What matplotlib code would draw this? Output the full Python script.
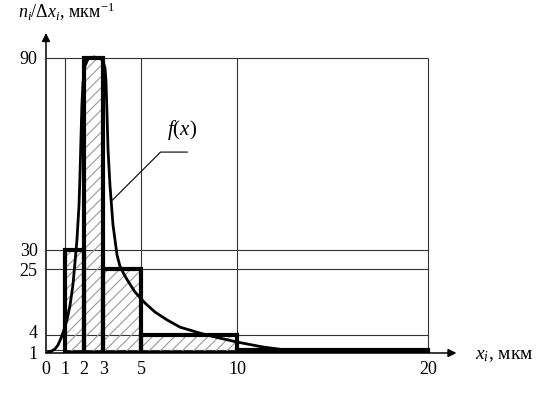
import numpy as np
import matplotlib
matplotlib.use("Agg")
import matplotlib.pyplot as plt
from matplotlib.transforms import ScaledTranslation

# histogram bins (мкм) and heights n_i/dx_i
bin_edges = [1, 2, 3, 5, 10, 20]
heights = [30, 90, 25, 4, 1]

# f(x)
curve_x = [0, 0.26, 0.47, 0.63, 0.79, 0.94, 1.10, 1.26, 1.41, 1.52,
           1.62, 1.73, 1.78, 1.83, 1.88, 1.94, 2.04, 2.2, 2.51, 2.83,
           2.98, 3.09, 3.14, 3.19, 3.25, 3.35, 3.51, 3.72, 3.87, 4.08,
           4.29, 4.66, 5.18, 5.71, 6.34, 7.02, 8.06, 8.74, 10.0, 11.36,
           13.14, 15.76, 20]
curve_y = [0, 0.5, 1.2, 2.0, 3.4, 5.6, 8.8, 13.5, 19.9, 26.8,
           33.1, 44.1, 53.4, 64.4, 75.3, 82.5, 87.5, 89.7, 90.3, 90,
           89.1, 86.9, 83.1, 73.75, 61.25, 50.3, 37.8, 28.7, 25.8, 23.4,
           21.2, 17.7, 14.2, 11.3, 8.8, 6.5, 4.6, 3.7, 2.6, 1.6,
           0.5, 0.1, 0.05]

x_ticks = [0, 1, 2, 3, 5, 10, 20]
y_ticks = [1, 4, 25, 30, 90]

# the original y axis is not drawn to an even scale
y_vals = [0, 1, 4, 25, 30, 90, 100]
y_pix = [0, 3, 18, 84, 103, 295, 327]


def fwd(v):
    return np.interp(v, y_vals, y_pix)


def inv(p):
    return np.interp(p, y_pix, y_vals)


def main():
    plt.rcParams["font.family"] = "Liberation Serif"
    plt.rcParams["mathtext.fontset"] = "custom"
    plt.rcParams["mathtext.rm"] = "Liberation Serif"
    plt.rcParams["mathtext.it"] = "Liberation Serif:italic"
    plt.rcParams["hatch.linewidth"] = 0.8

    W, H = 542, 395
    fig = plt.figure(figsize=(W / 100, H / 100), dpi=100)
    ax = fig.add_axes([46 / W, (H - 353) / H, 420 / W, 327 / H])
    ax.set_yscale("function", functions=(fwd, inv))
    ax.set_xlim(0, 22)
    ax.set_ylim(0, 100)
    for s in ax.spines.values():
        s.set_visible(False)

    # grid
    ax.hlines(y_ticks, 0, 20, color="#333333", lw=0.8, zorder=1)
    ax.vlines(bin_edges, 0, 90, color="#333333", lw=0.8, zorder=1)

    # histogram: gray hatch + thick outline
    lefts = bin_edges[:-1]
    widths = np.diff(bin_edges)
    ax.bar(lefts, heights, widths, align="edge", facecolor="none",
           edgecolor="#999999", lw=0, hatch="///", zorder=2)
    ax.bar(lefts, heights, widths, align="edge", facecolor="none",
           edgecolor="black", lw=3, zorder=3)

    ax.plot(curve_x, curve_y, color="black", lw=2, zorder=4,
            solid_joinstyle="round")

    # axes with arrows
    ax.annotate("", xy=(21.5, 0), xytext=(0, 0), annotation_clip=False,
                arrowprops=dict(arrowstyle="-|>", color="black", lw=1.1,
                                mutation_scale=12, shrinkA=0, shrinkB=0))
    ax.annotate("", xy=(0, 97.8), xytext=(0, 0), annotation_clip=False,
                arrowprops=dict(arrowstyle="-|>", color="black", lw=1.1,
                                mutation_scale=12, shrinkA=0, shrinkB=0))

    ax.set_xticks(x_ticks)
    ax.set_xticklabels([str(t) for t in x_ticks])
    ax.set_yticks(y_ticks)
    ax.set_yticklabels([str(t) for t in y_ticks])
    ax.minorticks_off()
    ax.tick_params(axis="both", length=0, labelsize=13)
    ax.tick_params(axis="x", pad=6)
    ax.tick_params(axis="y", pad=6)
    # nudge the two crowded labels apart like in the original
    for lab, dy in zip(ax.get_yticklabels(), [-2.5, 3, 0, 0, 0]):
        lab.set_transform(lab.get_transform() +
                          ScaledTranslation(0, dy / 100, fig.dpi_scale_trans))

    # f(x) leader
    ax.plot([3.48, 6.0, 7.4], [45.6, 60.6, 60.6], color="black", lw=0.8,
            zorder=5)
    ax.text(7.15, 67.5, r"$f(x)$", fontsize=15, ha="center", va="center")

    fig.text(18 / W, 1 - 18 / H, r"$n_i/\Delta x_i$, мкм$^{-1}$",
             fontsize=13, ha="left", va="baseline")
    fig.text(475 / W, 1 - 355 / H, r"$x_i$, мкм", fontsize=14,
             ha="left", va="center")

    fig.savefig("out.png", dpi=100)


if __name__ == "__main__":
    main()
